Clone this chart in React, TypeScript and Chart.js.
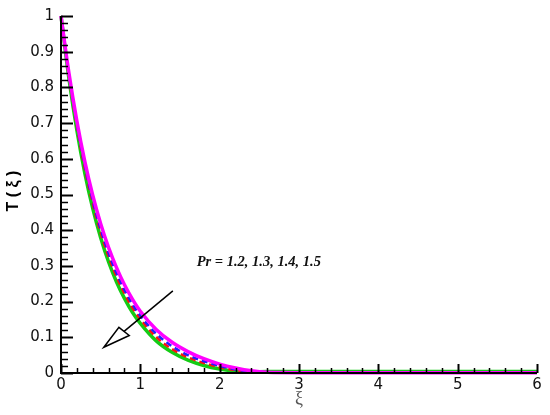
import React, { useEffect, useRef } from "react";
import { Chart, registerables } from "chart.js";

Chart.register(...registerables);

const xi = [0, 0.1, 0.2, 0.3, 0.4, 0.5, 0.6, 0.7, 0.8, 0.9, 1.0, 1.2, 1.4, 1.6, 1.8, 2.0, 2.2, 2.4, 2.6, 3, 4, 5, 6];
const pr12 = [1, 0.84, 0.706, 0.593, 0.498, 0.418, 0.351, 0.295, 0.247, 0.207, 0.173, 0.122, 0.086, 0.06, 0.04, 0.025, 0.014, 0.006, 0.002, 0.001, 0.001, 0.001, 0.001];
const pr13 = [1, 0.835, 0.697, 0.581, 0.484, 0.403, 0.336, 0.28, 0.233, 0.193, 0.16, 0.11, 0.075, 0.05, 0.033, 0.02, 0.01, 0.004, 0.002, 0.001, 0.001, 0.001, 0.001];
const pr14 = [1, 0.831, 0.691, 0.573, 0.475, 0.393, 0.326, 0.27, 0.223, 0.183, 0.151, 0.101, 0.067, 0.044, 0.028, 0.016, 0.008, 0.003, 0.002, 0.002, 0.002, 0.002, 0.002];
const pr15 = [1, 0.825, 0.68, 0.56, 0.461, 0.379, 0.311, 0.255, 0.209, 0.17, 0.139, 0.09, 0.058, 0.036, 0.021, 0.011, 0.005, 0.003, 0.004, 0.004, 0.004, 0.004, 0.004];

const xTicks = [0, 1, 2, 3, 4, 5, 6];
const yTicks = [0, 0.1, 0.2, 0.3, 0.4, 0.5, 0.6, 0.7, 0.8, 0.9, 1];

// annotation (data coordinates)
const arrowStart = [1.41, 0.23];
const arrowTip = [0.54, 0.072];
const arrowBaseA = [0.73, 0.128];
const arrowBaseB = [0.86, 0.105];
const prLabel = "Pr = 1.2, 1.3, 1.4, 1.5";
const prLabelPos = [1.71, 0.31];

const toPts = (ys: number[]) => xi.map((x, i) => ({ x, y: ys[i] }));

const decorPlugin = {
  id: "decor",
  afterDatasetsDraw(chart: any) {
    const { ctx, chartArea, scales } = chart;
    const xs = scales.x;
    const ys = scales.y;
    const px = (v: number) => xs.getPixelForValue(v);
    const py = (v: number) => ys.getPixelForValue(v);
    ctx.save();
    // axes
    ctx.strokeStyle = "#000";
    ctx.lineWidth = 2;
    ctx.beginPath();
    ctx.moveTo(chartArea.left, chartArea.top);
    ctx.lineTo(chartArea.left, chartArea.bottom);
    ctx.lineTo(chartArea.right, chartArea.bottom);
    ctx.stroke();
    // y ticks
    for (let i = 0; i <= 50; i++) {
      const v = i * 0.02;
      const y = Math.round(py(v)) + 0.5;
      const major = i % 5 === 0;
      ctx.lineWidth = major ? 2 : 1.5;
      ctx.beginPath();
      ctx.moveTo(chartArea.left, y);
      ctx.lineTo(chartArea.left + (major ? 12 : 7), y);
      ctx.stroke();
    }
    // x ticks
    for (let i = 0; i <= 30; i++) {
      const v = i * 0.2;
      const x = Math.round(px(v)) + 0.5;
      const major = i % 5 === 0;
      ctx.lineWidth = major ? 2 : 1.5;
      ctx.beginPath();
      ctx.moveTo(x, chartArea.bottom);
      ctx.lineTo(x, chartArea.bottom - (major ? 9 : 5));
      ctx.stroke();
    }
    // arrow
    ctx.lineWidth = 1.5;
    const midX = (arrowBaseA[0] + arrowBaseB[0]) / 2;
    const midY = (arrowBaseA[1] + arrowBaseB[1]) / 2;
    ctx.beginPath();
    ctx.moveTo(px(arrowStart[0]), py(arrowStart[1]));
    ctx.lineTo(px(midX), py(midY));
    ctx.stroke();
    ctx.beginPath();
    ctx.moveTo(px(arrowTip[0]), py(arrowTip[1]));
    ctx.lineTo(px(arrowBaseA[0]), py(arrowBaseA[1]));
    ctx.lineTo(px(arrowBaseB[0]), py(arrowBaseB[1]));
    ctx.closePath();
    ctx.fillStyle = "#fff";
    ctx.fill();
    ctx.stroke();
    // Pr label
    ctx.fillStyle = "#111";
    ctx.font = "bold italic 14.5px 'Liberation Serif', serif";
    ctx.textAlign = "left";
    ctx.textBaseline = "middle";
    ctx.fillText(prLabel, px(prLabelPos[0]), py(prLabelPos[1]));
    // x title
    ctx.fillStyle = "#555";
    ctx.font = "18px 'Liberation Serif', serif";
    ctx.textAlign = "center";
    ctx.fillText("ξ", (chartArea.left + chartArea.right) / 2, 399);
    // y title
    ctx.save();
    ctx.translate(14, 191);
    ctx.rotate(-Math.PI / 2);
    ctx.fillStyle = "#000";
    ctx.font = "bold 16px 'Liberation Sans', Arial, sans-serif";
    ctx.textAlign = "center";
    ctx.textBaseline = "middle";
    ctx.fillText("T ( ξ )", 0, 0);
    ctx.restore();
    ctx.restore();
  },
};

export default function App() {
  const ref = useRef<HTMLCanvasElement | null>(null);
  useEffect(() => {
    if (!ref.current) return;
    const common = { pointRadius: 0, cubicInterpolationMode: "monotone" as const, fill: false, clip: 6 };
    const chart = new Chart(ref.current, {
      type: "line",
      data: {
        datasets: [
          { ...common, label: "Pr = 1.2", data: toPts(pr12), borderColor: "#ff00ff", borderWidth: 3.5 },
          { ...common, label: "Pr = 1.3", data: toPts(pr13), borderColor: "#1e1eff", borderWidth: 2.5, borderDash: [6, 4] },
          { ...common, label: "Pr = 1.4", data: toPts(pr14), borderColor: "#ff1010", borderWidth: 2.5, borderDash: [6, 4] },
          { ...common, label: "Pr = 1.5", data: toPts(pr15), borderColor: "#14cc14", borderWidth: 3.5 },
        ],
      },
      options: {
        animation: false,
        responsive: false,
        maintainAspectRatio: false,
        layout: { padding: { top: 12, right: 13, left: 0, bottom: 0 } },
        plugins: { legend: { display: false }, tooltip: { enabled: false } },
        scales: {
          x: {
            type: "linear",
            min: 0,
            max: 6,
            afterBuildTicks: (s: any) => { s.ticks = xTicks.map((v) => ({ value: v })); },
            afterFit: (s: any) => { s.height = 42; },
            grid: { display: false, drawTicks: false },
            border: { display: false },
            ticks: {
              padding: 3,
              color: "#111",
              font: { family: "'DejaVu Sans', Arial, sans-serif", size: 15 },
              callback: (v: any) => String(v),
            },
          },
          y: {
            type: "linear",
            min: 0,
            max: 1,
            afterBuildTicks: (s: any) => { s.ticks = yTicks.map((v) => ({ value: v })); },
            afterFit: (s: any) => { s.width = 61; },
            grid: { display: false, drawTicks: false },
            border: { display: false },
            ticks: {
              padding: 7,
              color: "#111",
              font: { family: "'DejaVu Sans', Arial, sans-serif", size: 15 },
              callback: (v: any) => String(Number(Number(v).toFixed(1))),
            },
          },
        },
      },
      plugins: [decorPlugin],
    });
    return () => chart.destroy();
  }, []);
  return (
    <div style={{ position: "fixed", left: 0, top: 0, width: 550, height: 415, background: "#fff" }}>
      <canvas ref={ref} width={550} height={415} style={{ width: 550, height: 415 }} />
    </div>
  );
}
